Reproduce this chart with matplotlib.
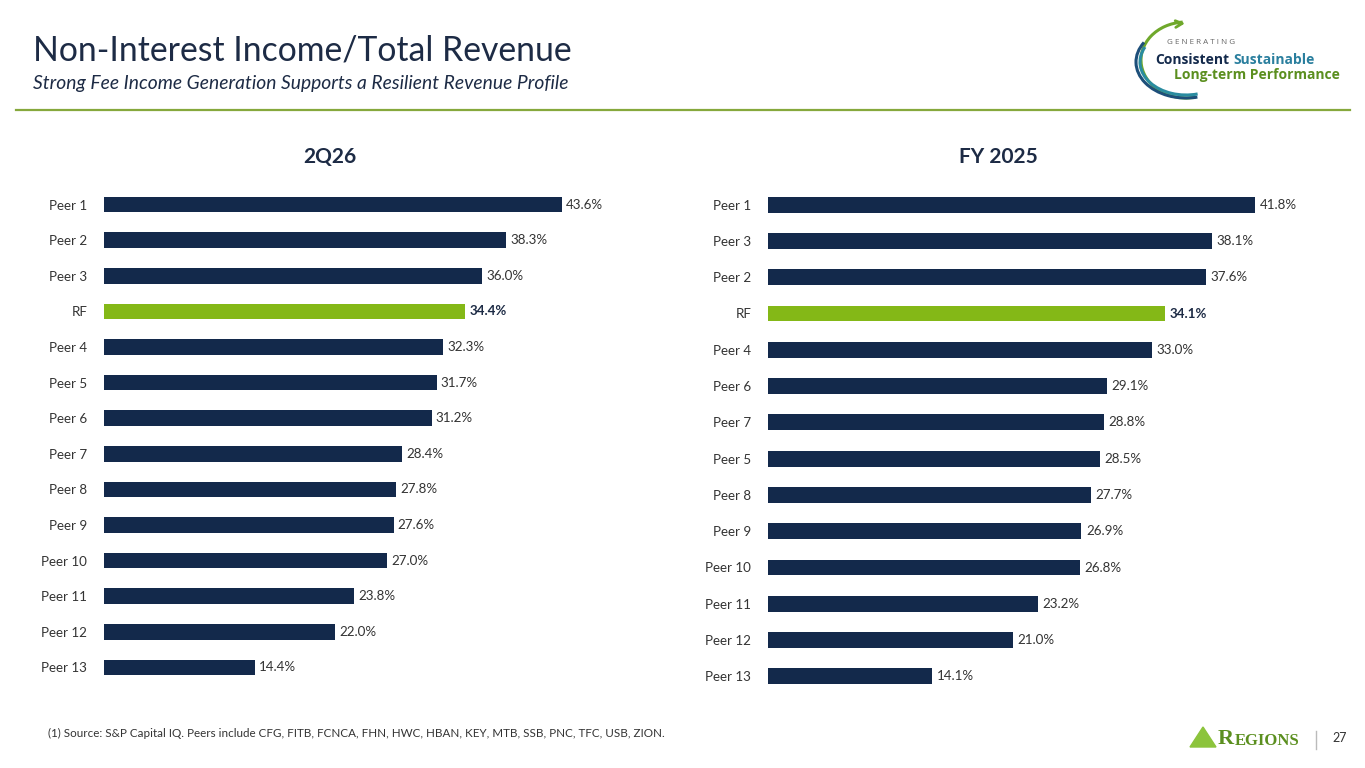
import matplotlib.pyplot as plt
from matplotlib.patches import Arc, Polygon

# data
left_labels = ["Peer 1", "Peer 2", "Peer 3", "RF", "Peer 4", "Peer 5", "Peer 6",
               "Peer 7", "Peer 8", "Peer 9", "Peer 10", "Peer 11", "Peer 12", "Peer 13"]
left_values = [43.6, 38.3, 36.0, 34.4, 32.3, 31.7, 31.2, 28.4, 27.8, 27.6, 27.0, 23.8, 22.0, 14.4]

right_labels = ["Peer 1", "Peer 3", "Peer 2", "RF", "Peer 4", "Peer 6", "Peer 7",
                "Peer 5", "Peer 8", "Peer 9", "Peer 10", "Peer 11", "Peer 12", "Peer 13"]
right_values = [41.8, 38.1, 37.6, 34.1, 33.0, 29.1, 28.8, 28.5, 27.7, 26.9, 26.8, 23.2, 21.0, 14.1]

NAVY = "#13294b"
GREEN = "#84b817"
TEXT = "#1d2b45"
GREY = "#333333"

W, H = 1365, 768
fig = plt.figure(figsize=(W / 100, H / 100), dpi=100)
fig.patch.set_facecolor("white")


def px_axes(x0, y0, x1, y1):
    # axes from pixel box (top-left origin)
    return fig.add_axes([x0 / W, 1 - y1 / H, (x1 - x0) / W, (y1 - y0) / H])


def draw_panel(labels, values, box, xmax, title, title_x):
    ax = px_axes(*box)
    n = len(labels)
    ys = list(range(n))
    colors = [GREEN if l == "RF" else NAVY for l in labels]
    ax.barh(ys, values, height=0.44, color=colors)
    ax.set_xlim(0, xmax)
    ax.set_ylim(n - 0.5, -0.5)
    ax.set_yticks(ys)
    ax.set_yticklabels(labels, fontsize=9.6, color=GREY, family="Lato")
    ax.tick_params(axis="y", length=0, pad=12)
    ax.set_xticks([])
    for s in ax.spines.values():
        s.set_visible(False)
    for y, v, l in zip(ys, values, labels):
        bold = l == "RF"
        ax.text(v + xmax * 0.008, y, f"{v:.1f}%", va="center", ha="left",
                fontsize=9.6, color=TEXT if bold else GREY,
                fontweight="bold" if bold else "normal", family="Lato")
    fig.text(title_x / W, 1 - 157 / H, title, ha="center", va="center",
             fontsize=15, fontweight="bold", color=TEXT, family="Lato")
    return ax


draw_panel(left_labels, left_values, (104, 186.8, 604, 685.2), 500 / 10.5, "2Q26", 330)
draw_panel(right_labels, right_values, (768, 186.5, 1328, 694.5), 560 / 11.65, "FY 2025", 998)

# header
fig.text(33 / W, 1 - 50 / H, "Non-Interest Income/Total Revenue", ha="left", va="center",
         fontsize=24.3, color=TEXT, family="Lato")
fig.text(33 / W, 1 - 84 / H, "Strong Fee Income Generation Supports a Resilient Revenue Profile",
         ha="left", va="center", fontsize=13.9, style="italic", color=TEXT, family="Lato")
fig.add_artist(plt.Line2D([16 / W, 1350 / W], [1 - 110 / H, 1 - 110 / H],
                          color="#86a83c", lw=1.6))

# overlay axes in pixel coords for logos
lg = fig.add_axes([0, 0, 1, 1], facecolor="none")
lg.set_xlim(0, W)
lg.set_ylim(H, 0)
lg.axis("off")

# logo top right
lg.add_patch(Arc((1186, 60), 90, 76, theta1=75, theta2=265, color="#6fa82b", lw=2.2))
lg.add_patch(Arc((1186, 62), 100, 72, theta1=72, theta2=205, color="#1d4f7a", lw=2.2))
lg.add_patch(Arc((1186, 62), 92, 66, theta1=70, theta2=200, color="#2a8ca0", lw=2.2))
lg.annotate("", xy=(1188, 23), xytext=(1176, 24),
            arrowprops=dict(arrowstyle="->", color="#6fa82b", lw=2, mutation_scale=12))
lg.text(1167, 43, "G E N E R A T I N G", fontsize=5.8, color="#666666", va="center",
        family="Open Sans")
lg.text(1155, 60, "Consistent", fontsize=10, color=NAVY, fontweight="bold", va="center",
        family="Open Sans")
lg.text(1233, 60, "Sustainable", fontsize=10, color="#2a7f9e", fontweight="bold", va="center",
        family="Open Sans")
lg.text(1174, 75, "Long-term Performance", fontsize=10, color="#5b8f1f", fontweight="bold",
        va="center", family="Open Sans")

# footer
fig.text(48 / W, 1 - 733 / H,
         "(1) Source: S&P Capital IQ. Peers include CFG, FITB, FCNCA, FHN, HWC, HBAN, KEY, MTB, SSB, PNC, TFC, USB, ZION.",
         ha="left", va="center", fontsize=8.35, color=GREY, family="Lato")
lg.add_patch(Polygon([(1190, 747), (1203, 727), (1216, 747)], closed=True, color="#8cc43c"))
lg.text(1218, 739, "R", fontsize=16, color="#5b8f1f", fontweight="bold", va="center",
        family="Liberation Serif")
lg.text(1235, 741, "EGIONS", fontsize=12, color="#5b8f1f", fontweight="bold", va="center",
        family="Liberation Serif")
lg.plot([1316, 1316], [731, 749], color="#bbbbbb", lw=1)
lg.text(1332, 738, "27", fontsize=9, color=GREY, va="center", family="Lato")

fig.savefig("out.png", dpi=100, facecolor="white")
